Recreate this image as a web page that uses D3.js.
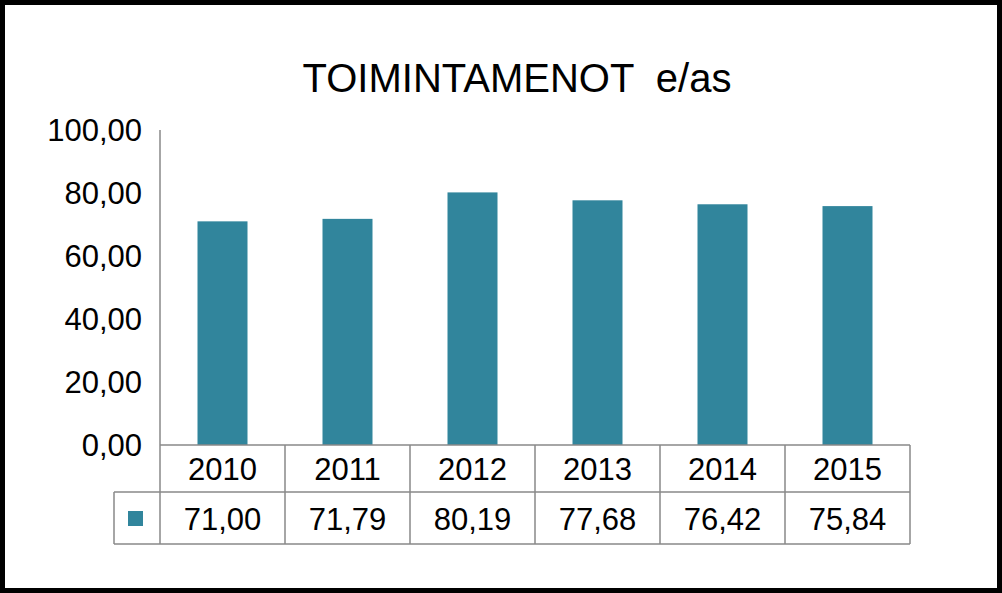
<!DOCTYPE html>
<html><head><meta charset="utf-8">
<script src="https://cdn.jsdelivr.net/npm/d3@7"></script>
<style>body{margin:0;background:#fff}text{font-family:Arial,"Liberation Sans",sans-serif;fill:#000}</style>
</head><body>
<script>
var years = ["2010", "2011", "2012", "2013", "2014", "2015"];
var values = [71.00, 71.79, 80.19, 77.68, 76.42, 75.84];
var yTicks = [0, 20, 40, 60, 80, 100];

var W = 1002, H = 593, pLeft = 160, pRight = 910, pTop = 130, pBottom = 445,
    row1 = 492, row2 = 544, legLeft = 114;
var fmt = function (v) { return v.toFixed(2).replace(".", ","); };

var svg = d3.select("body").append("svg").attr("width", W).attr("height", H);
svg.append("rect").attr("x", 2.5).attr("y", 2.5).attr("width", W - 5).attr("height", H - 5)
    .attr("fill", "#fff").attr("stroke", "#000").attr("stroke-width", 5);

svg.append("text").attr("x", 517).attr("y", 92).attr("text-anchor", "middle")
    .attr("font-size", 40).attr("xml:space", "preserve").text("TOIMINTAMENOT  e/as");

var x = d3.scaleBand().domain(years).range([pLeft, pRight]).paddingInner(0.6).paddingOuter(0.3);
var xc = d3.scaleBand().domain(years).range([pLeft, pRight]);
var y = d3.scaleLinear().domain([0, 100]).range([pBottom, pTop]);

svg.selectAll("text.yt").data(yTicks).enter().append("text").attr("class", "yt")
    .attr("x", 142).attr("y", function (d) { return y(d) + 11; })
    .attr("text-anchor", "end").attr("font-size", 31).text(fmt);

svg.selectAll("rect.bar").data(values).enter().append("rect").attr("class", "bar")
    .attr("x", function (d, i) { return x(years[i]); }).attr("width", x.bandwidth())
    .attr("y", function (d) { return y(d); }).attr("height", function (d) { return pBottom - y(d); })
    .attr("fill", "#31859c");

var g = svg.append("g").attr("stroke", "#888").attr("stroke-width", 1.5).attr("fill", "none");
g.append("line").attr("x1", pLeft).attr("x2", pLeft).attr("y1", pTop).attr("y2", row2);
g.append("line").attr("x1", pLeft).attr("x2", pRight).attr("y1", pBottom).attr("y2", pBottom);
g.append("line").attr("x1", legLeft).attr("x2", pRight).attr("y1", row1).attr("y2", row1);
g.append("line").attr("x1", legLeft).attr("x2", pRight).attr("y1", row2).attr("y2", row2);
g.append("line").attr("x1", legLeft).attr("x2", legLeft).attr("y1", row1).attr("y2", row2);
years.forEach(function (yr) {
    var xr = xc(yr) + xc.bandwidth();
    g.append("line").attr("x1", xr).attr("x2", xr).attr("y1", pBottom).attr("y2", row2);
});

svg.selectAll("text.yr").data(years).enter().append("text").attr("class", "yr")
    .attr("x", function (d) { return xc(d) + xc.bandwidth() / 2; }).attr("y", pBottom + 35)
    .attr("text-anchor", "middle").attr("font-size", 31).text(function (d) { return d; });
svg.selectAll("text.vl").data(values).enter().append("text").attr("class", "vl")
    .attr("x", function (d, i) { return xc(years[i]) + xc.bandwidth() / 2; }).attr("y", row1 + 38)
    .attr("text-anchor", "middle").attr("font-size", 31).text(fmt);
svg.append("rect").attr("x", 128).attr("y", 511).attr("width", 15).attr("height", 15).attr("fill", "#31859c");
</script>
</body></html>
